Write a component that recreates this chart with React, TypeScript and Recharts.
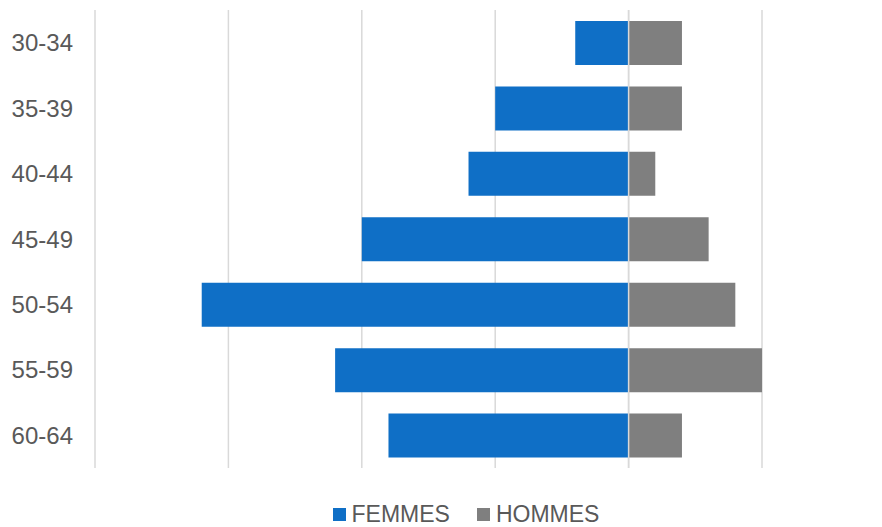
import { BarChart, Bar, XAxis, YAxis, CartesianGrid, Legend, ReferenceLine } from 'recharts';

const ageGroups = ['30-34', '35-39', '40-44', '45-49', '50-54', '55-59', '60-64'];
const femmes = [2, 5, 6, 10, 16, 11, 9];
const hommes = [2, 2, 1, 3, 4, 5, 2];
const xTicks = [-20, -15, -10, -5, 0, 5];

const FONT = '"Liberation Sans", Arial, sans-serif';
const TEXT = '#595959';
const BLUE = '#0F6FC6';
const GRAY = '#7F7F7F';

const chartData = ageGroups.map((age, i) => ({
  age,
  femmes: -femmes[i],
  hommes: hommes[i],
}));

function PyramidLegend() {
  const items = [
    { label: 'FEMMES', color: BLUE },
    { label: 'HOMMES', color: GRAY },
  ];
  return (
    <div
      style={{
        height: 59,
        display: 'flex',
        justifyContent: 'center',
        alignItems: 'flex-end',
        paddingLeft: 50,
        boxSizing: 'border-box',
        fontFamily: FONT,
        fontSize: 23,
        color: TEXT,
      }}
    >
      {items.map((it, i) => (
        <div
          key={it.label}
          style={{ display: 'flex', alignItems: 'center', marginLeft: i ? 27 : 0, lineHeight: '24px', marginBottom: 1 }}
        >
          <span style={{ width: 13, height: 13, background: it.color, marginRight: 6, display: 'inline-block' }} />
          {it.label}
        </div>
      ))}
    </div>
  );
}

export default function App() {
  return (
    <div style={{ width: 882, height: 527, overflow: 'hidden', background: '#fff' }}>
      <style>{`body{margin:0}`}</style>
      <BarChart
        width={882}
        height={527}
        data={chartData}
        layout="vertical"
        stackOffset="sign"
        margin={{ top: 10, right: 120, bottom: 0, left: 0 }}
      >
        <CartesianGrid horizontal={false} stroke="#d9d9d9" strokeWidth={1.5} />
        <XAxis type="number" domain={[-20, 5]} ticks={xTicks} hide />
        <YAxis
          type="category"
          dataKey="age"
          width={95}
          axisLine={false}
          tickLine={false}
          tickSize={0}
          tickMargin={22}
          tick={{ fontSize: 24, fill: TEXT, fontFamily: FONT }}
        />
        <Bar dataKey="femmes" name="FEMMES" stackId="a" fill={BLUE} barSize={44} isAnimationActive={false} />
        <Bar dataKey="hommes" name="HOMMES" stackId="a" fill={GRAY} barSize={44} isAnimationActive={false} />
        <ReferenceLine x={0} stroke="#d9d9d9" strokeWidth={1.5} />
        <Legend
          verticalAlign="bottom"
          height={59}
          wrapperStyle={{ left: 0, width: 882, bottom: 0 }}
          content={() => <PyramidLegend />}
        />
      </BarChart>
    </div>
  );
}
